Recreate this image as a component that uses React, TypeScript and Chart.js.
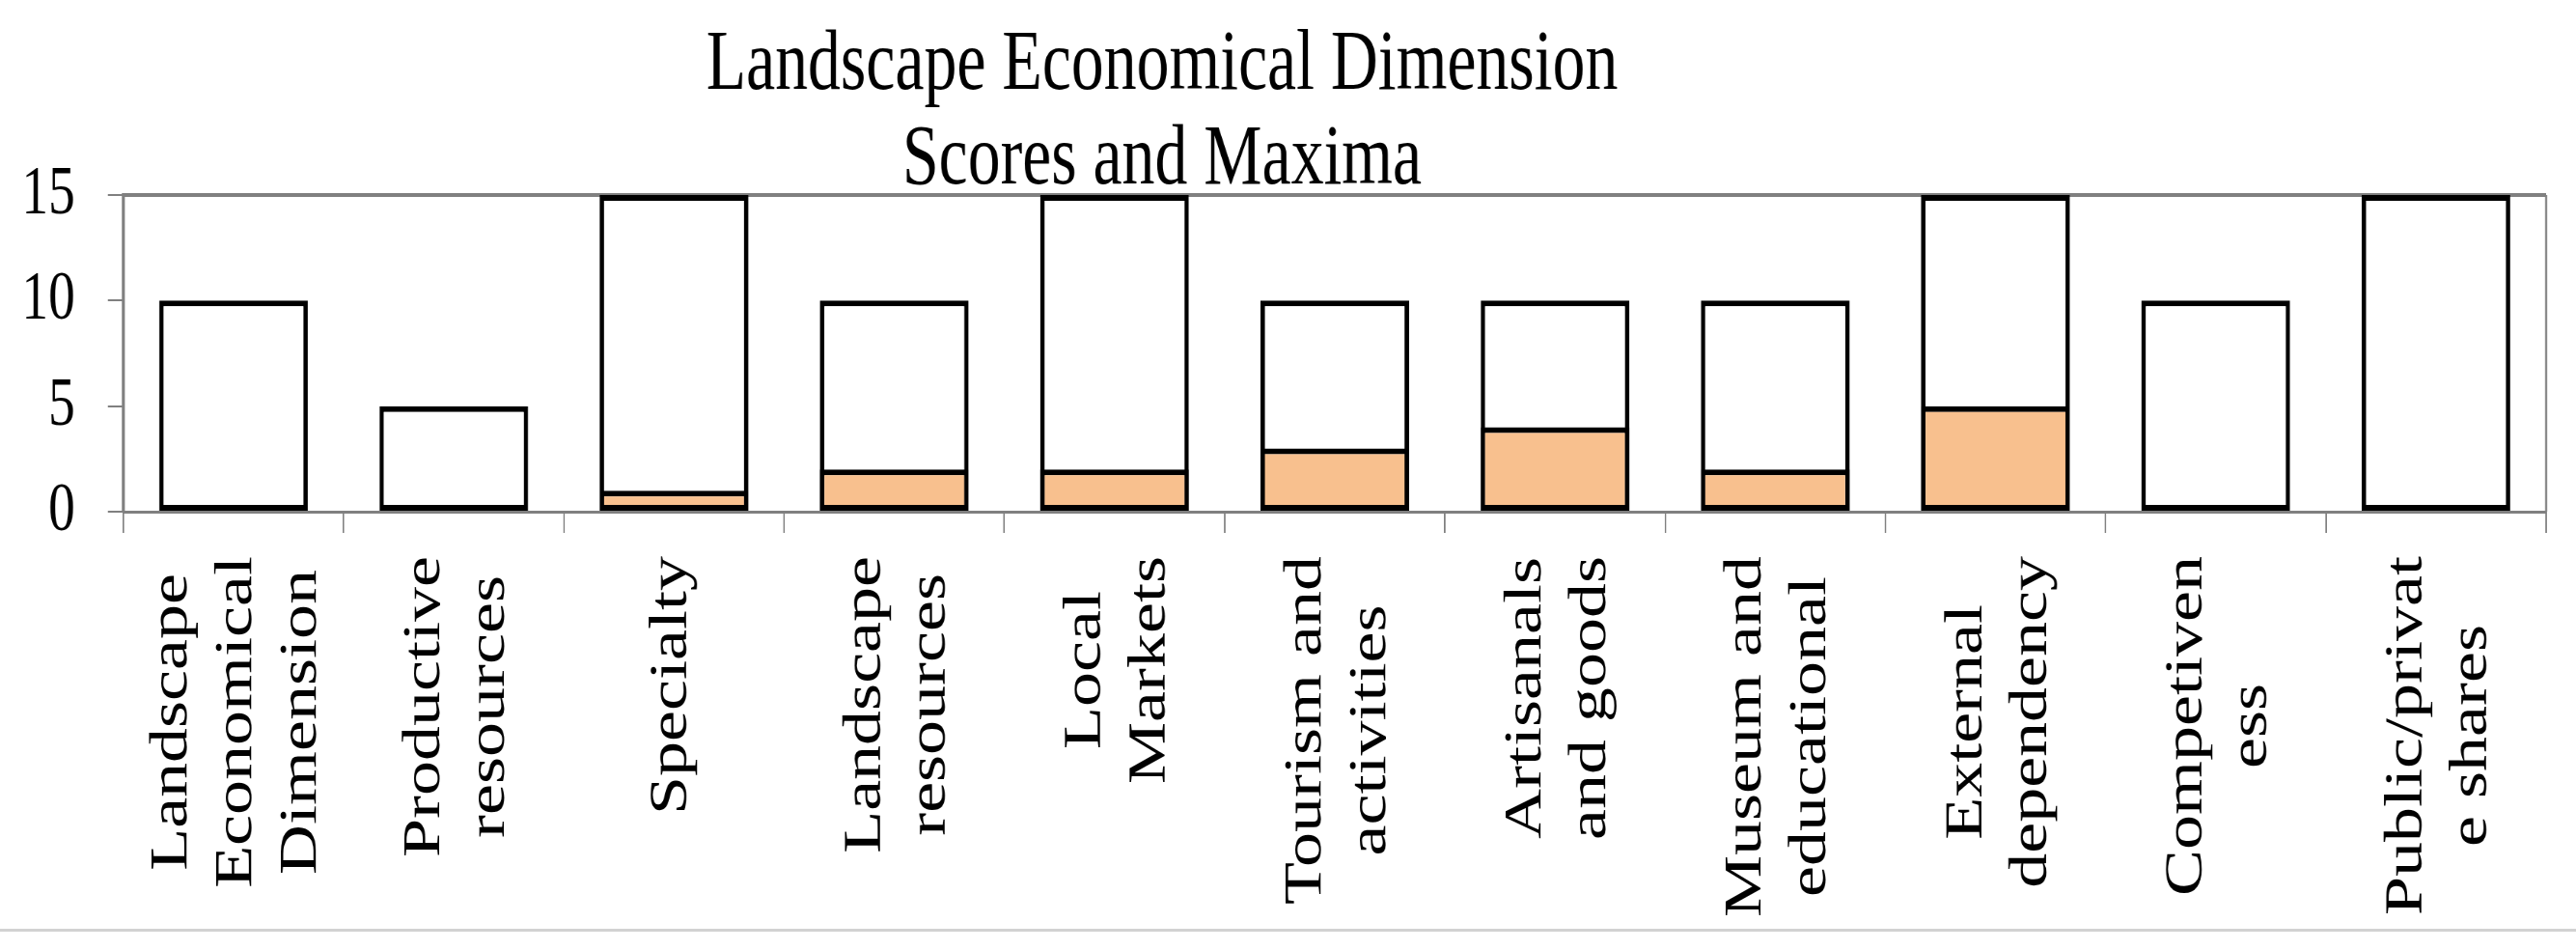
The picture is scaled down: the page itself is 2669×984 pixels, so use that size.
import React, { useEffect, useRef } from "react";
import { Chart, registerables } from "chart.js";

Chart.register(...registerables);

// ---- data ----
const categories: string[][] = [
  ["Landscape", "Economical", "Dimension"],
  ["Productive", "resources"],
  ["Specialty"],
  ["Landscape", "resources"],
  ["Local", "Markets"],
  ["Tourism and", "activities"],
  ["Artisanals", "and goods"],
  ["Museum and", "educational"],
  ["External", "dependency"],
  ["Competiven", "ess"],
  ["Public/privat", "e shares"],
];
const scores = [0, 0, 1, 2, 2, 3, 4, 2, 5, 0, 0];
const maxima = [10, 5, 15, 10, 15, 10, 10, 10, 15, 10, 15];
const yTickValues = [0, 5, 10, 15];
const titleLines = ["Landscape Economical Dimension", "Scores and Maxima"];

// ---- layout (canvas is drawn wide, then squeezed horizontally like the reference) ----
const SX = 0.77;
const VIEW_W = 2669;
const H = 984;
const W = Math.round(VIEW_W / SX);
const FONT = "'Liberation Serif', 'Times New Roman', Times, serif";
const PLOT_LEFT = Math.round(128 / SX);
const PLOT_RIGHT = Math.round(2638 / SX);
const PLOT_TOP = 202;
const PLOT_BOTTOM = 530;
const AXIS_GRAY = "#808080";

const titlePlugin = {
  id: "customTitle",
  afterDraw(chart: any) {
    const ctx = chart.ctx;
    ctx.save();
    ctx.fillStyle = "#000";
    ctx.font = `88px ${FONT}`;
    ctx.textAlign = "center";
    ctx.textBaseline = "alphabetic";
    const cx = 1204 / SX;
    ctx.fillText(titleLines[0], cx, 92);
    ctx.fillText(titleLines[1], cx, 190);
    ctx.restore();
  },
};

const labelPlugin = {
  id: "rotatedLabels",
  afterDraw(chart: any) {
    const ctx = chart.ctx;
    const xs = chart.scales.x;
    const fs = 72;
    const lh = 87;
    ctx.save();
    ctx.fillStyle = "#000";
    ctx.font = `${fs}px ${FONT}`;
    ctx.textAlign = "center";
    ctx.textBaseline = "alphabetic";
    categories.forEach((lines, i) => {
      const cx = xs.getPixelForValue(i);
      const L = Math.max(...lines.map((l) => ctx.measureText(l).width));
      const yc = 576 + L / 2;
      ctx.save();
      ctx.translate(cx, yc);
      ctx.rotate(-Math.PI / 2);
      const n = lines.length;
      const off = n === 1 ? 16 : 24;
      lines.forEach((line, j) => {
        ctx.fillText(line, 0, (j - (n - 1) / 2) * lh + off);
      });
      ctx.restore();
    });
    // light frame line at the bottom of the figure
    ctx.fillStyle = "#d2d2d2";
    ctx.fillRect(0, 962, W, 3);
    ctx.restore();
  },
};

const framePlugin = {
  id: "plotFrame",
  beforeDatasetsDraw(chart: any) {
    const { ctx, chartArea } = chart;
    ctx.save();
    ctx.strokeStyle = AXIS_GRAY;
    ctx.lineWidth = 4;
    ctx.beginPath();
    ctx.moveTo(chartArea.left, chartArea.top);
    ctx.lineTo(chartArea.right, chartArea.top);
    ctx.stroke();
    ctx.lineWidth = 2.6;
    ctx.beginPath();
    ctx.moveTo(chartArea.right, chartArea.top);
    ctx.lineTo(chartArea.right, chartArea.bottom);
    ctx.stroke();
    ctx.restore();
  },
};

export default function App() {
  const ref = useRef<HTMLCanvasElement | null>(null);

  useEffect(() => {
    if (!ref.current) return;
    const chart = new Chart(ref.current, {
      type: "bar",
      data: {
        labels: categories.map((c) => c.join(" ")),
        datasets: [
          {
            label: "Score",
            data: scores,
            backgroundColor: "#F8C08E",
            borderColor: "#000",
            borderWidth: 6,
            borderSkipped: false,
            grouped: false,
            barPercentage: 0.675,
            categoryPercentage: 1,
          },
          {
            label: "Maximum",
            data: maxima,
            backgroundColor: "#ffffff",
            borderColor: "#000",
            borderWidth: 6,
            borderSkipped: false,
            grouped: false,
            barPercentage: 0.675,
            categoryPercentage: 1,
          },
        ],
      },
      options: {
        responsive: false,
        maintainAspectRatio: false,
        animation: false,
        layout: { padding: { top: PLOT_TOP, right: W - PLOT_RIGHT, bottom: 0, left: 0 } },
        plugins: {
          legend: { display: false },
          title: { display: false },
          tooltip: { enabled: false },
        },
        scales: {
          x: {
            type: "category",
            offset: true,
            ticks: { display: false },
            grid: {
              offset: true,
              drawOnChartArea: false,
              drawTicks: true,
              tickLength: 22,
              color: AXIS_GRAY,
              lineWidth: 2,
            },
            border: { display: true, color: AXIS_GRAY, width: 3 },
            afterFit: (scale: any) => {
              scale.height = H - PLOT_BOTTOM;
            },
          },
          y: {
            min: 0,
            max: 15,
            afterBuildTicks: (scale: any) => {
              scale.ticks = yTickValues.map((v) => ({ value: v }));
            },
            ticks: {
              stepSize: 5,
              color: "#000",
              padding: 44,
              font: { family: FONT, size: 72 },
            },
            grid: {
              drawOnChartArea: false,
              drawTicks: true,
              tickLength: 21,
              color: AXIS_GRAY,
              lineWidth: 2,
            },
            border: { display: true, color: AXIS_GRAY, width: 4 },
            afterFit: (scale: any) => {
              scale.width = PLOT_LEFT;
            },
          },
        },
      } as any,
      plugins: [framePlugin, titlePlugin, labelPlugin],
    });
    return () => chart.destroy();
  }, []);

  return (
    <div
      style={{
        position: "absolute",
        left: 0,
        top: 0,
        width: VIEW_W,
        height: H,
        overflow: "hidden",
        background: "#fff",
      }}
    >
      <div
        style={{
          width: W,
          height: H,
          transform: `scaleX(${SX})`,
          transformOrigin: "0 0",
        }}
      >
        <canvas ref={ref} width={W} height={H} style={{ width: W, height: H, display: "block" }} />
      </div>
    </div>
  );
}
